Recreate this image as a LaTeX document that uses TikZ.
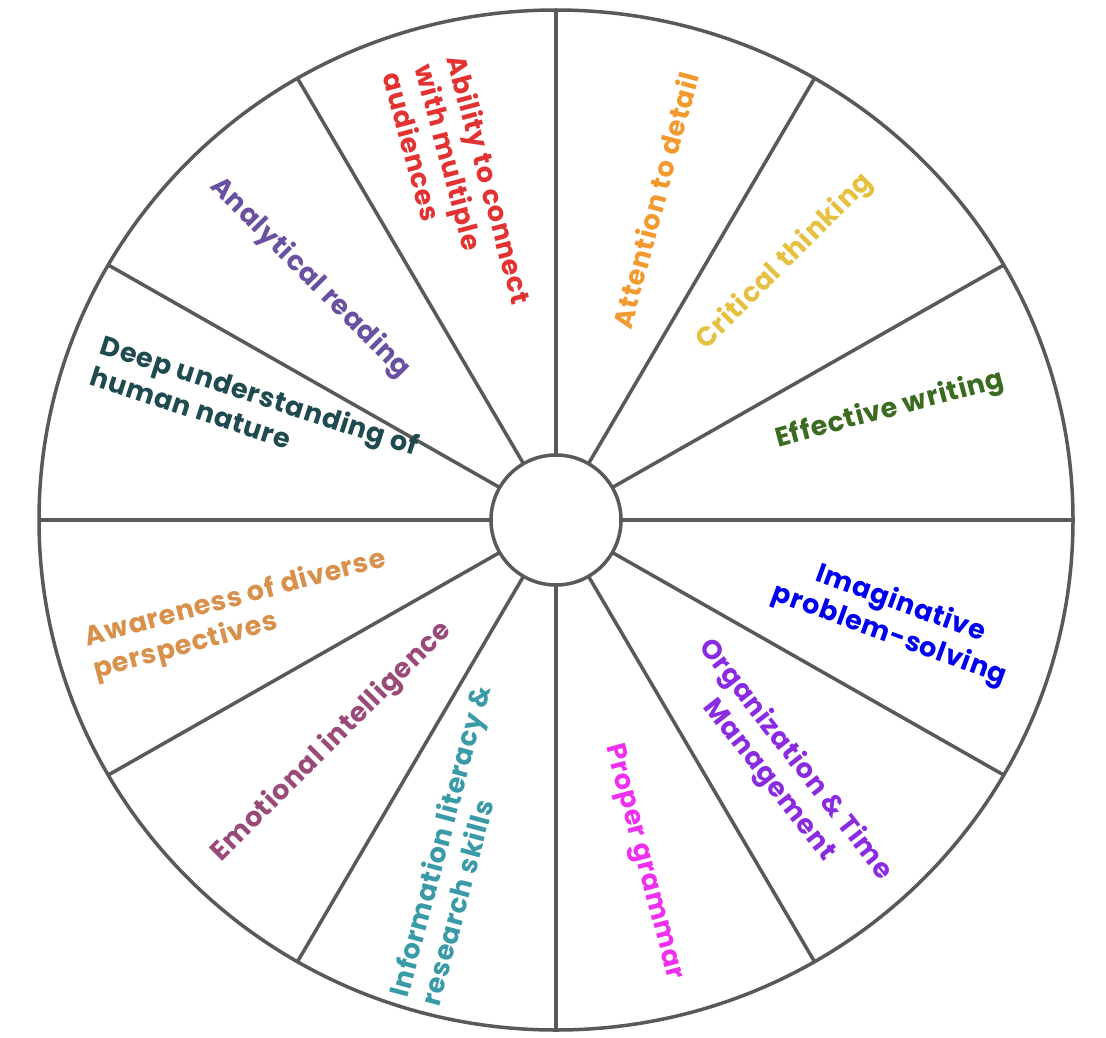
\documentclass[tikz,border=0pt]{standalone}
\usepackage{fontspec}
\setmainfont{Poppins}[LetterSpace=3]
\usetikzlibrary{calc}
\begin{document}
\begin{tikzpicture}[x=1pt,y=-1pt,
  lab/.style={font=\fontsize{27}{33}\selectfont\bfseries, align=center, inner sep=0pt},
  rim/.style={draw=black!65, line width=3.5pt}]
\useasboundingbox (0,0) rectangle (1106,1038);
\coordinate (c) at (556,520);
\draw[rim,fill=white] (c) ellipse (517 and 510);
\foreach \a in {0,30,...,330}{
  \draw[rim] ($(c)+(\a:65 and -65)$) -- ($(c)+(\a:517 and -510)$);
}
\node[rim,fill=white,circle,minimum size=130pt] (hub) at (c) {};
\definecolor{cA}{HTML}{E23232}\definecolor{cB}{HTML}{F29A30}
\definecolor{cC}{HTML}{E6C040}\definecolor{cD}{HTML}{3A6B20}
\definecolor{cE}{HTML}{0000EE}\definecolor{cF}{HTML}{8A2BE2}
\definecolor{cG}{HTML}{F030F0}\definecolor{cH}{HTML}{3A9AA8}
\definecolor{cI}{HTML}{9A4A78}\definecolor{cJ}{HTML}{D8904A}
\definecolor{cK}{HTML}{1F4A50}\definecolor{cL}{HTML}{6A50A0}
\node[lab,cA,rotate=-75,align=left] (t1) at (458,188) {Ability to connect\\with multiple\\audiences};
\node[lab,cB,rotate=75] (t2) at (655,200) {Attention to detail};
\node[lab,cC,rotate=45] (t3) at (785,262) {Critical thinking};
\node[lab,cD,rotate=15] (t4) at (890,410) {Effective writing};
\node[lab,cE,rotate=-20] (t5) at (895,620) {Imaginative\\problem-solving};
\node[lab,cF,rotate=-52] (t6) at (782,770) {Organization \& Time\\Management};
\node[lab,cG,rotate=-75] (t7) at (643,862) {Proper grammar};
\node[lab,cH,rotate=75,align=left] (t8) at (455,845) {Information literacy \&\\research skills};
\node[lab,cI,rotate=45] (t9) at (332,742) {Emotional intelligence};
\node[lab,cJ,rotate=15,align=left] (t10) at (240,615) {Awareness of diverse\\perspectives};
\node[lab,cK,rotate=-18,align=left] (t11) at (255,410) {Deep understanding of\\human nature};
\node[lab,cL,rotate=-45] (t12) at (310,278) {Analytical reading};
\end{tikzpicture}
\end{document}
